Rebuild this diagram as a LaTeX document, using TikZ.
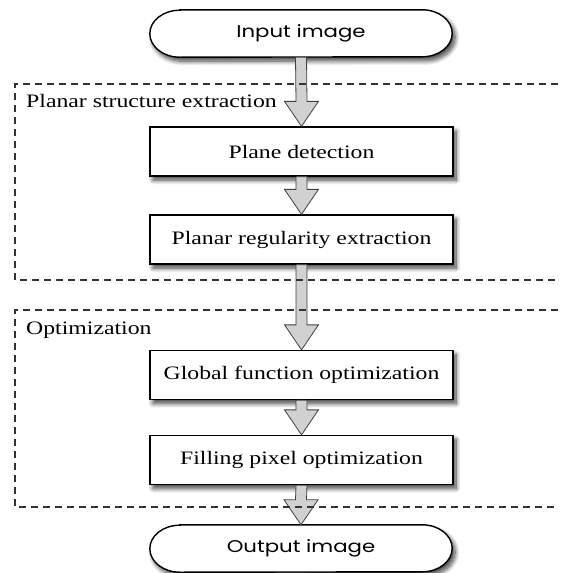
\documentclass[tikz,border=0pt]{standalone}
\usepackage{fontspec}
\setmainfont{Liberation Serif}[FakeStretch=1.25]
\newfontfamily\stadfont{Poppins}[FakeStretch=1.25]
\usetikzlibrary{calc,shadows.blur}
\pgfdeclarelayer{background}
\pgfsetlayers{background,main}
\newcommand\blockarr[2]{%
  \draw[blockarrow] ($(#1.south)+(-5.5,0)$) -- ($(#2.north)+(-5.5,25)$) -- ($(#2.north)+(-17,25)$) -- (#2.north) -- ($(#2.north)+(17,25)$) -- ($(#2.north)+(5.5,25)$) -- ($(#1.south)+(5.5,0)$) -- cycle;}
\newcommand\stadpath[1]{%
  \path[stadshape] ($(#1.north west)+(30,0)$) -- ($(#1.north east)+(-30,0)$)
    arc[start angle=90, end angle=-90, x radius=30, y radius=23.5]
    -- ($(#1.south west)+(30,0)$)
    arc[start angle=270, end angle=90, x radius=30, y radius=23.5] -- cycle;}
\begin{document}
\begin{tikzpicture}[x=1pt,y=1pt,
  softshadow/.style={blur shadow={shadow xshift=3pt,shadow yshift=-4pt,shadow blur radius=4.5pt,shadow blur steps=10,shadow opacity=75}},
  procbox/.style={draw=black, line width=1.3pt, fill=white, minimum width=303pt, minimum height=49pt,
    inner sep=0pt, font=\fontsize{19}{22}\selectfont, softshadow},
  stadnode/.style={minimum width=302pt, minimum height=47pt, inner sep=0pt,
    font=\stadfont\fontsize{17}{20}\selectfont},
  stadshape/.style={draw=black, line width=1.4pt, fill=white, softshadow},
  blockarrow/.style={draw=black!75, line width=0.8pt, fill=black!18},
  dashbox/.style={draw=black!80, line width=1.3pt, dash pattern=on 7pt off 5pt},
  lbl/.style={inner sep=0pt, font=\fontsize{19}{22}\selectfont}]
\useasboundingbox (0,0) rectangle (560,-573);
\node[stadnode] (in) at (301,-33.5) {Input image};
\node[procbox] (pd) at (301.5,-151.5) {Plane detection};
\node[procbox] (pr) at (301.5,-239.5) {Planar regularity extraction};
\node[procbox] (gf) at (301.5,-375) {Global function optimization};
\node[procbox] (fp) at (301.5,-460) {Filling pixel optimization};
\node[stadnode] (out) at (301,-548.5) {Output image};
\begin{pgfonlayer}{background}
  \stadpath{in}
  \stadpath{out}
\end{pgfonlayer}
\blockarr{in}{pd}
\blockarr{pd}{pr}
\blockarr{pr}{gf}
\blockarr{gf}{fp}
\blockarr{fp}{out}
\draw[dashbox] (558,-84) -- (15,-84) -- (15,-280) -- (558,-280);
\draw[dashbox] (558,-310) -- (15,-310) -- (15,-507) -- (558,-507);
\node[lbl, anchor=base west] (l1) at (26,-107) {Planar structure extraction};
\node[lbl, anchor=base west] (l2) at (26,-334) {Optimization};
\end{tikzpicture}
\end{document}
